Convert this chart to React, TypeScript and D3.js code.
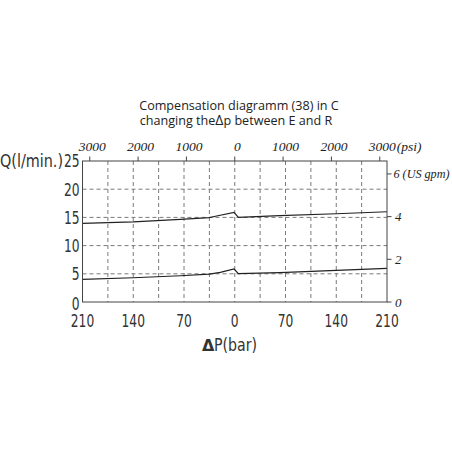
import React from 'react';
import * as d3 from 'd3';

// ΔP in bar (negative = left half of the diagram), Q in l/min
const barTicks = [-210, -140, -70, 0, 70, 140, 210];
const gridBars = [-175, -140, -105, -70, -35, 0, 35, 70, 105, 140, 175];
const qTicks = [0, 5, 10, 15, 20, 25];
const qGrid = [5, 10, 15, 20];
const psiTicks = [-3000, -2000, -1000, 0, 1000, 2000, 3000];
const gpmTicks = [0, 2, 4, 6];

const upperCurve: [number, number][] = [
  [-210, 13.95], [-140, 14.2], [-75, 14.65], [-35, 14.95], [-25, 15.25],
  [-1, 15.9], [5, 15.0], [62, 15.3], [140, 15.65], [210, 16.0],
];
const lowerCurve: [number, number][] = [
  [-210, 4.0], [-140, 4.3], [-75, 4.65], [-35, 4.95], [-20, 5.25],
  [-1, 5.85], [5, 5.02], [62, 5.2], [140, 5.6], [210, 5.97],
];

const LPM_PER_GPM = 3.785;
const PSI_PER_BAR = 15;

const W = 452;
const H = 452;
const m = { left: 82.5, right: 387, top: 161, bottom: 302 };

const numFont = "'DejaVu Sans Condensed', 'DejaVu Sans', sans-serif";
const serifFont = "'Liberation Serif', 'DejaVu Serif', serif";
const digitW = 7.8; // width of one digit in the condensed axis labels

const App: React.FC = () => {
  const x = d3.scaleLinear().domain([-210, 210]).range([m.left, m.right]);
  const y = d3.scaleLinear().domain([0, 25]).range([m.bottom, m.top]);
  const xPsi = (p: number) => x(p / PSI_PER_BAR);
  const yGpm = (g: number) => y(g * LPM_PER_GPM);

  const line = d3
    .line<[number, number]>()
    .x((d) => x(d[0]))
    .y((d) => y(d[1]));

  return (
    <svg
      width={W}
      height={H}
      style={{ position: 'absolute', left: 0, top: 0, background: '#fff' }}
    >
      {/* title */}
      <g fontFamily="'Open Sans', 'Noto Sans', sans-serif" fontSize={12.6} fill="#222" textAnchor="middle">
        <text x={239} y={110}>Compensation diagramm (38) in C</text>
        <text x={236} y={124.5}>
          changing the<tspan fontSize={14}>Δ</tspan>p between E and R
        </text>
      </g>

      {/* grid */}
      <g stroke="#7a7a7a" strokeWidth={1} strokeDasharray="4,3">
        {gridBars.map((b) => (
          <line key={'v' + b} x1={x(b)} x2={x(b)} y1={m.top} y2={m.bottom} />
        ))}
        {qGrid.map((q) => (
          <line key={'h' + q} x1={m.left} x2={m.right} y1={y(q)} y2={y(q)} />
        ))}
      </g>

      {/* curves */}
      <g fill="none" stroke="#222" strokeWidth={1.2}>
        <path d={line(upperCurve) || ''} />
        <path d={line(lowerCurve) || ''} />
      </g>

      {/* frame */}
      <rect
        x={m.left}
        y={m.top}
        width={m.right - m.left}
        height={m.bottom - m.top}
        fill="none"
        stroke="#444"
        strokeWidth={1}
      />

      {/* top psi axis */}
      <g stroke="#444">
        {psiTicks.map((p) => (
          <line key={p} x1={xPsi(p)} x2={xPsi(p)} y1={m.top} y2={m.top - 4.5} />
        ))}
      </g>
      <g fontFamily={serifFont} fontStyle="italic" fontSize={13.5} fill="#222" textAnchor="middle">
        {psiTicks.map((p) => (
          <text key={p} x={xPsi(p) + 2.5} y={151}>
            {Math.abs(p)}
          </text>
        ))}
        <text x={xPsi(3000) + 17} y={151} textAnchor="start">(psi)</text>
      </g>

      {/* right gpm axis */}
      <g stroke="#444">
        {gpmTicks.map((g) => (
          <line key={g} x1={m.right} x2={m.right + 4.5} y1={yGpm(g)} y2={yGpm(g)} />
        ))}
      </g>
      <g fontFamily={serifFont} fontStyle="italic" fontSize={13} fill="#222">
        {gpmTicks.map((g) =>
          g === 6 ? (
            <text key={g} x={m.right + 6.5} y={yGpm(g) + 4.5} textLength={56} lengthAdjust="spacingAndGlyphs">
              6 (US gpm)
            </text>
          ) : (
            <text key={g} x={m.right + 8} y={yGpm(g) + 4.5}>
              {g}
            </text>
          )
        )}
      </g>

      {/* left Q axis */}
      <g fontFamily={numFont} fontSize={17} fill="#333" textAnchor="end">
        {qTicks.map((q) => (
          <text
            key={q}
            x={79.5}
            y={y(q) + (q === 0 ? 8 : 6.3)}
            textLength={String(q).length * digitW}
            lengthAdjust="spacingAndGlyphs"
          >
            {q}
          </text>
        ))}
        <text x={0} y={y(25) + 6.3} textAnchor="start" textLength={63} lengthAdjust="spacingAndGlyphs">
          Q(l/min.)
        </text>
      </g>

      {/* bottom bar axis */}
      <g fontFamily={numFont} fontSize={17.5} fill="#333" textAnchor="middle">
        {barTicks.map((b) => (
          <text
            key={b}
            x={x(b)}
            y={326.5}
            textLength={String(Math.abs(b)).length * digitW}
            lengthAdjust="spacingAndGlyphs"
          >
            {Math.abs(b)}
          </text>
        ))}
        <text x={202} y={351} textAnchor="start" fontWeight="bold" fontFamily="'DejaVu Sans', sans-serif" fontSize={16}>
          Δ
        </text>
        <text x={214} y={351} textAnchor="start" textLength={43} lengthAdjust="spacingAndGlyphs">
          P(bar)
        </text>
      </g>
    </svg>
  );
};

export default App;
